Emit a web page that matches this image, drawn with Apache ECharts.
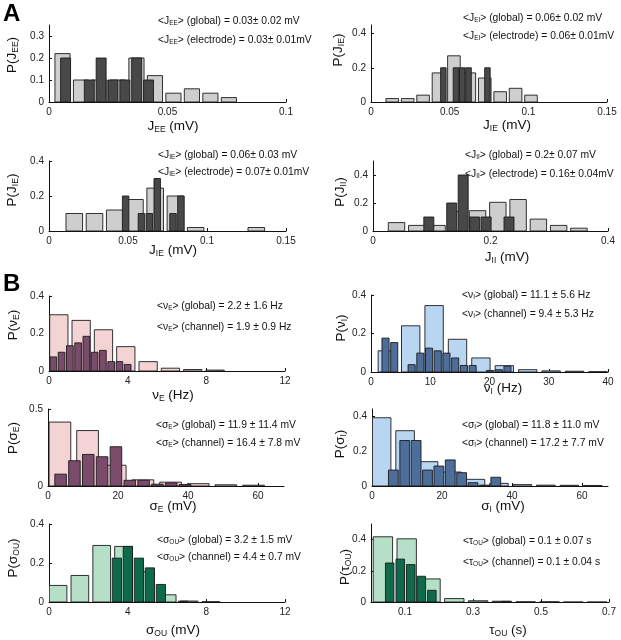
<!DOCTYPE html>
<html><head><meta charset="utf-8">
<script src="https://cdn.jsdelivr.net/npm/echarts@6.0.0/dist/echarts.min.js"></script>
<style>html,body{margin:0;padding:0;background:#fff}#c{width:621px;height:640px}</style>
</head><body><div id="c"></div>
<script>
// ---------- DATA ----------
// A1: J_EE
const jeeGlobalBins = [0.0057,0.0135,0.0213,0.0291,0.0369,0.0447,0.0525,0.0603,0.0681,0.0759];
const jeeGlobalProb = [0.22,0.10,0.10,0.10,0.20,0.12,0.04,0.06,0.04,0.02];
const jeeElecBins   = [0.007,0.012,0.017,0.022,0.027,0.032,0.037,0.042];
const jeeElecProb   = [0.20,0,0.10,0.20,0.10,0.10,0.20,0.10];
// A2: J_EI
const jeiGlobalBins = [0.0135,0.0233,0.0331,0.0429,0.0527,0.0625,0.0723,0.0821,0.0919,0.1017];
const jeiGlobalProb = [0.02,0.02,0.04,0.17,0.27,0.17,0.14,0.06,0.08,0.04];
const jeiElecBins   = [0.046,0.050,0.054,0.058,0.062,0.066,0.070,0.074];
const jeiElecProb   = [0.20,0,0.20,0.20,0.20,0,0,0.20];
// A3: J_IE
const jieGlobalBins = [0.016,0.0288,0.0416,0.0544,0.0672,0.080,0.0928,0.1056,0.1184,0.1312];
const jieGlobalProb = [0.10,0.10,0.12,0.18,0.245,0.20,0.02,0,0,0.02];
const jieElecBins   = [0.0485,0.0535,0.0585,0.0635,0.0685,0.0735,0.0785,0.0835];
const jieElecProb   = [0.20,0,0.10,0.10,0.30,0,0.10,0.20];
// A4: J_II
const jiiGlobalBins = [0.040,0.0745,0.109,0.1435,0.178,0.2125,0.247,0.2815,0.316,0.3505];
const jiiGlobalProb = [0.06,0.04,0.04,0.14,0.145,0.205,0.225,0.085,0.04,0.02];
const jiiElecBins   = [0.095,0.1145,0.134,0.1535,0.173,0.1925,0.212,0.2315];
const jiiElecProb   = [0.10,0,0.20,0.40,0.10,0.10,0,0.10];
// B1: nu_E
const nuEGlobalBins = [0.5,1.635,2.77,3.905,5.04,6.175,7.31,8.445];
const nuEGlobalProb = [0.30,0.27,0.22,0.13,0.05,0.015,0.008,0.005];
const nuEChanBins   = [0.22,0.64,1.06,1.48,1.90,2.32,2.74,3.16,3.58,4.00];
const nuEChanProb   = [0.075,0.10,0.135,0.15,0.185,0.10,0.11,0.05,0.05,0.035];
// B2: nu_I
const nuIGlobalBins = [2.75,6.7,10.65,14.6,18.55,22.5,26.45,30.4,34.35,38.3];
const nuIGlobalProb = [0.11,0.24,0.345,0.17,0.073,0.033,0.012,0.006,0.004,0.002];
const nuIChanBins   = [2.45,3.92,5.39,6.86,8.33,9.8,11.27,12.74,14.21,15.68,17.15,18.62,20.09,21.56,23.03];
const nuIChanProb   = [0.176,0.153,0,0.038,0.098,0.124,0.11,0.098,0.073,0.034,0.034,0,0.008,0.012,0.03];
// B3: sigma_E
const sigEGlobalBins = [3.4,11.3,19.2,27.1,35.0,42.9,50.8,58.7];
const sigEGlobalProb = [0.415,0.36,0.135,0.04,0.025,0.015,0.008,0.005];
const sigEChanBins   = [3.6,7.55,11.5,15.45,19.4,23.35,27.3,31.25,35.2,39.15];
const sigEChanProb   = [0.077,0.164,0.205,0.19,0.255,0.037,0.037,0.012,0.02,0.01];
// B4: sigma_I
const sigIGlobalBins = [2.75,9.45,16.15,22.85,29.55,36.25,42.95,49.65,56.35,63.05];
const sigIGlobalProb = [0.39,0.316,0.139,0.08,0.038,0.015,0.008,0.005,0.004,0.003];
const sigIChanBins   = [6.1,9.35,12.6,15.85,19.1,22.35,25.6,28.85,32.1,35.35];
const sigIChanProb   = [0.091,0.26,0.26,0.091,0.114,0.149,0.076,0.019,0.005,0.05];
// B5: sigma_OU
const sigOUGlobalBins = [0.46,1.57,2.68,3.79,4.90,6.01,7.12,8.23];
const sigOUGlobalProb = [0.085,0.136,0.29,0.285,0.155,0.037,0.005,0.002];
const sigOUChanBins   = [3.45,4.01,4.57,5.13,5.69,6.25,6.81];
const sigOUChanProb   = [0.225,0.285,0.225,0.175,0.09,0,0.004];
// B6: tau_OU
const tauOUGlobalBins = [0.035,0.105,0.175,0.245,0.315,0.385,0.455,0.525,0.595,0.665];
const tauOUGlobalProb = [0.418,0.405,0.148,0.022,0.008,0.005,0.002,0.002,0.001,0.001];
const tauOUChanBins   = [0.055,0.086,0.117,0.148,0.179,0.21,0.241,0.272,0.303,0.334,0.365,0.396];
const tauOUChanProb   = [0.25,0.275,0.24,0.165,0.075,0,0,0,0,0,0,0.004];

// tick values
const xTicksA1 = [0,0.05,0.1];           const yTicksA1 = [0,0.1,0.2,0.3];
const xTicksA2 = [0,0.05,0.1,0.15];      const yTicksA2 = [0,0.2,0.4];
const xTicksA3 = [0,0.05,0.1,0.15];      const yTicksA3 = [0,0.2,0.4];
const xTicksA4 = [0,0.2,0.4];            const yTicksA4 = [0,0.2,0.4];
const xTicksB1 = [0,4,8,12];             const yTicksB1 = [0,0.2,0.4];
const xTicksB2 = [0,10,20,30,40];        const yTicksB2 = [0,0.2,0.4];
const xTicksB3 = [0,20,40,60];           const yTicksB3 = [0,0.5];
const xTicksB4 = [0,20,40,60];           const yTicksB4 = [0,0.2,0.4];
const xTicksB5 = [0,4,8,12];             const yTicksB5 = [0,0.2,0.4];
const xTicksB6 = [0.1,0.3,0.5,0.7];      const yTicksB6 = [0,0.2,0.4];

// annotation texts: [symbol, subscript, rest]
const annA1 = [['<J','EE','> (global) = 0.03± 0.02 mV'],['<J','EE','> (electrode) = 0.03± 0.01mV']];
const annA2 = [['<J','EI','> (global) = 0.06± 0.02 mV'],['<J','EI','> (electrode) = 0.06± 0.01mV']];
const annA3 = [['<J','IE','> (global) = 0.06± 0.03 mV'],['<J','IE','> (electrode) = 0.07± 0.01mV']];
const annA4 = [['<J','II','> (global) = 0.2± 0.07 mV'],['<J','II','> (electrode) = 0.16± 0.04mV']];
const annB1 = [['<ν','E','> (global) = 2.2 ± 1.6 Hz'],['<ν','E','> (channel) = 1.9 ± 0.9 Hz']];
const annB2 = [['<ν','I','> (global) = 11.1 ± 5.6 Hz'],['<ν','I','> (channel) = 9.4 ± 5.3 Hz']];
const annB3 = [['<σ','E','> (global) = 11.9 ± 11.4 mV'],['<σ','E','> (channel) = 16.4 ± 7.8 mV']];
const annB4 = [['<σ','I','> (global) = 11.8 ± 11.0 mV'],['<σ','I','> (channel) = 17.2 ± 7.7 mV']];
const annB5 = [['<σ','OU','> (global) = 3.2 ± 1.5 mV'],['<σ','OU','> (channel) = 4.4 ± 0.7 mV']];
const annB6 = [['<τ','OU','> (global) = 0.1 ± 0.07 s'],['<τ','OU','> (channel) = 0.1 ± 0.04 s']];

// axis titles: [symbol, subscript, rest]
const xTitles = [['J','EE',' (mV)'],['J','IE',' (mV)'],['J','IE',' (mV)'],['J','II',' (mV)'],['ν','E',' (Hz)'],['ν','I',' (Hz)'],['σ','E',' (mV)'],['σ','I',' (mV)'],['σ','OU',' (mV)'],['τ','OU',' (s)']];
const yTitles = [['P(J','EE',')'],['P(J','IE',')'],['P(J','IE',')'],['P(J','II',')'],['P(ν','E',')'],['P(ν','I',')'],['P(σ','E',')'],['P(σ','I',')'],['P(σ','OU',')'],['P(τ','OU',')']];

// ---------- LAYOUT / STYLE ----------
const FONT = 'Liberation Sans, Arial, sans-serif';
const GRAY_L = '#cecece', GRAY_D = '#484848';
const PINK_L = '#f3d3d3', PURP_D = '#7b4b6c';
const BLUE_L = '#b8d6f1', BLUE_D = '#4d6d9b';
const GRN_L = '#b5dfc6', GRN_D = '#0e6a4b';

const panels = [
  {grid:{left:49,top:25,width:237,height:77}, xMax:0.1, yMax:0.35, xT:xTicksA1, yT:yTicksA1,
   g:[jeeGlobalBins,jeeGlobalProb,0.0064,GRAY_L], e:[jeeElecBins,jeeElecProb,0.0042,GRAY_D],
   ann:annA1, annX:158, annY:[21,40], xt:[173,126], yt:[12,55]},
  {grid:{left:371,top:25,width:236,height:77}, xMax:0.15, yMax:0.45, xT:xTicksA2, yT:yTicksA2,
   g:[jeiGlobalBins,jeiGlobalProb,0.008,GRAY_L], e:[jeiElecBins,jeiElecProb,0.0035,GRAY_D],
   ann:annA2, annX:463, annY:[18,36], xt:[507,125], yt:[338,50]},
  {grid:{left:49,top:161,width:237,height:70}, xMax:0.15, yMax:0.4, xT:xTicksA3, yT:yTicksA3,
   g:[jieGlobalBins,jieGlobalProb,0.0105,GRAY_L], e:[jieElecBins,jieElecProb,0.0041,GRAY_D],
   ann:annA3, annX:158, annY:[155,172], xt:[173,250], yt:[12,190]},
  {grid:{left:373,top:161,width:235,height:70}, xMax:0.4, yMax:0.5, xT:xTicksA4, yT:yTicksA4,
   g:[jiiGlobalBins,jiiGlobalProb,0.028,GRAY_L], e:[jiiElecBins,jiiElecProb,0.017,GRAY_D],
   ann:annA4, annX:465, annY:[155,174], xt:[507,257], yt:[340,192]},
  {grid:{left:49,top:296,width:236,height:75}, xMax:12, yMax:0.4, xT:xTicksB1, yT:yTicksB1,
   g:[nuEGlobalBins,nuEGlobalProb,0.93,PINK_L], e:[nuEChanBins,nuEChanProb,0.34,PURP_D],
   ann:annB1, annX:157, annY:[306,327], xt:[173,395], yt:[13,325]},
  {grid:{left:371,top:295,width:237,height:77}, xMax:40, yMax:0.4, xT:xTicksB2, yT:yTicksB2,
   g:[nuIGlobalBins,nuIGlobalProb,3.1,BLUE_L], e:[nuIChanBins,nuIChanProb,1.2,BLUE_D],
   ann:annB2, annX:462, annY:[295,314], xt:[503,388], yt:[341,328]},
  {grid:{left:48,top:409,width:236,height:77}, xMax:67.4, yMax:0.5, xT:xTicksB3, yT:yTicksB3,
   g:[sigEGlobalBins,sigEGlobalProb,6.2,PINK_L], e:[sigEChanBins,sigEChanProb,3.3,PURP_D],
   ann:annB3, annX:156, annY:[425,443], xt:[173,506], yt:[13,438]},
  {grid:{left:372,top:409,width:236,height:77}, xMax:67.4, yMax:0.44, xT:xTicksB4, yT:yTicksB4,
   g:[sigIGlobalBins,sigIGlobalProb,5.3,BLUE_L], e:[sigIChanBins,sigIChanProb,2.8,BLUE_D],
   ann:annB4, annX:462, annY:[425,443], xt:[503,506], yt:[340,444]},
  {grid:{left:49,top:524,width:236,height:78}, xMax:12, yMax:0.4, xT:xTicksB5, yT:yTicksB5,
   g:[sigOUGlobalBins,sigOUGlobalProb,0.9,GRN_L], e:[sigOUChanBins,sigOUChanProb,0.47,GRN_D],
   ann:annB5, annX:157, annY:[540,557], xt:[173,630], yt:[13,558]},
  {grid:{left:371,top:524,width:238,height:78}, xMax:0.7, yMax:0.5, xT:xTicksB6, yT:yTicksB6,
   g:[tauOUGlobalBins,tauOUGlobalProb,0.057,GRN_L], e:[tauOUChanBins,tauOUChanProb,0.025,GRN_D],
   ann:annB6, annX:463, annY:[541,562], xt:[508,630], yt:[345,567]}
];

function binRenderer(binWidth, fill) {
  return function (params, api) {
    const c = api.value(0), h = api.value(1);
    if (!h) return null;
    const a = api.coord([c - binWidth / 2, h]);
    const b = api.coord([c + binWidth / 2, 0]);
    return {type:'rect', shape:{x:a[0], y:a[1], width:b[0]-a[0], height:Math.max(b[1]-a[1], 0.6)},
            style:{fill:fill, stroke:'#1c1c1c', lineWidth:0.9}};
  };
}

function richText(parts, size, subSize, subPad) {
  return {
    text: '{n|' + parts[0] + '}{s|' + parts[1] + '}{n|' + parts[2] + '}',
    rich: {
      n: {fontSize:size, fontFamily:FONT, fill:'#111'},
      s: {fontSize:subSize, fontFamily:FONT, fill:'#111', padding:[subPad,0,0,0]}
    }
  };
}

const grids = [], xAxes = [], yAxes = [], series = [], graphics = [];
panels.forEach(function (p, i) {
  grids.push(Object.assign({outerBoundsMode:'none', containLabel:false}, p.grid));
  const axisCommon = {
    axisLine:{show:true, lineStyle:{color:'#111', width:1}},
    splitLine:{show:false},
    axisLabel:{fontSize:10, color:'#222', fontFamily:FONT},
    axisTick:{show:true, inside:true, length:3, lineStyle:{color:'#111'}}
  };
  xAxes.push({type:'value', gridIndex:i, min:0, max:p.xMax,
    axisLine:axisCommon.axisLine, splitLine:axisCommon.splitLine,
    axisTick:Object.assign({customValues:p.xT}, axisCommon.axisTick),
    axisLabel:Object.assign({customValues:p.xT, margin:5}, axisCommon.axisLabel)});
  yAxes.push({type:'value', gridIndex:i, min:0, max:p.yMax,
    axisLine:axisCommon.axisLine, splitLine:axisCommon.splitLine,
    axisTick:Object.assign({customValues:p.yT}, axisCommon.axisTick),
    axisLabel:Object.assign({customValues:p.yT, margin:5}, axisCommon.axisLabel)});
  [p.g, p.e].forEach(function (h, k) {
    series.push({type:'custom', xAxisIndex:i, yAxisIndex:i, z:2+k, clip:true,
      data:h[0].map(function (c, j) { return [c, h[1][j]]; }),
      renderItem:binRenderer(h[2], h[3])});
  });
  p.ann.forEach(function (parts, k) {
    const rt = richText(parts, 10.3, 6.5, 5);
    graphics.push({type:'text', x:p.annX, y:p.annY[k], z:10,
      style:{text:rt.text, rich:rt.rich, align:'left', verticalAlign:'middle', fill:'#111'}});
  });
  const xt = richText(xTitles[i], 13.5, 8.5, 7);
  graphics.push({type:'text', x:p.xt[0], y:p.xt[1], z:10,
    style:{text:xt.text, rich:xt.rich, align:'center', verticalAlign:'middle', fill:'#111'}});
  const yt = richText(yTitles[i], 13.5, 8.5, 7);
  graphics.push({type:'text', x:p.yt[0], y:p.yt[1], rotation:Math.PI/2, z:10,
    style:{text:yt.text, rich:yt.rich, align:'center', verticalAlign:'middle', fill:'#111'}});
});
graphics.push({type:'text', x:3, y:2, style:{text:'A', font:'bold 24px ' + FONT, fill:'#000'}});
graphics.push({type:'text', x:3, y:272, style:{text:'B', font:'bold 24px ' + FONT, fill:'#000'}});

const chart = echarts.init(document.getElementById('c'), null, {renderer:'canvas'});
chart.setOption({
  animation:false,
  backgroundColor:'#fff',
  grid:grids, xAxis:xAxes, yAxis:yAxes, series:series, graphic:graphics
});
</script></body></html>
